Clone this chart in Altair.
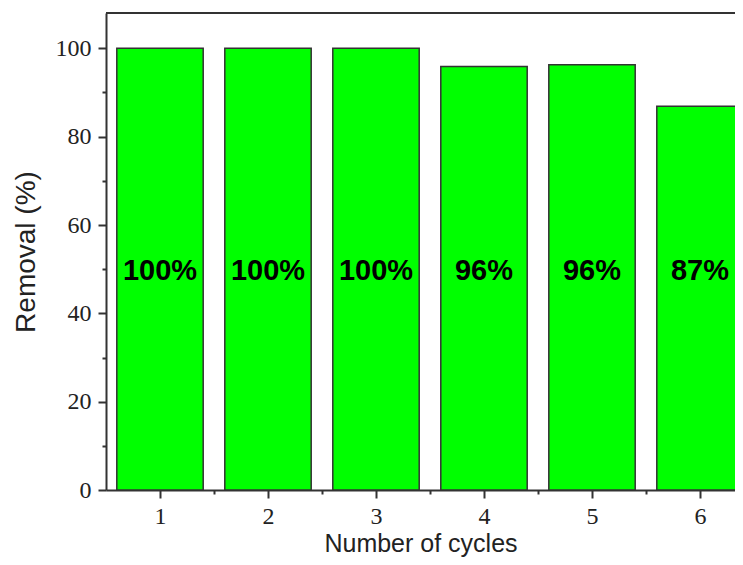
import altair as alt
import pandas as pd

cycles = [1, 2, 3, 4, 5, 6]
removal = [100, 100, 100, 95.9, 96.3, 86.9]
labels = ["100%", "100%", "100%", "96%", "96%", "87%"]
major_x = [1, 2, 3, 4, 5, 6]
minor_x = [1.5, 2.5, 3.5, 4.5, 5.5]
major_y = [0, 20, 40, 60, 80, 100]
minor_y = [10, 30, 50, 70, 90]

df = pd.DataFrame({"cycle": cycles, "removal": removal, "label": labels})

W, H = 629, 477
xscale = alt.Scale(domain=[0.5, 0.5 + W / 108], nice=False, zero=False)
yscale = alt.Scale(domain=[0, 108], nice=False)

ink = "#222222"
axis_common = dict(
    domainColor="#333333", domainWidth=2, tickColor="#333333", tickWidth=2,
    labelFont="Liberation Serif", labelFontSize=24, labelColor=ink,
    titleFont="Liberation Sans", titleFontWeight="normal",
    titleColor=ink, grid=False,
)

base = alt.Chart(df).transform_calculate(
    x0="datum.cycle - 0.4", x1="datum.cycle + 0.4"
)

bars = base.mark_bar(color="#00ff00", stroke="#333333", strokeWidth=1.5, clip=True).encode(
    x=alt.X("x0:Q", scale=xscale,
            axis=alt.Axis(values=major_x, title="Number of cycles", orient="bottom",
                          tickSize=8, labelPadding=6, titlePadding=3, titleFontSize=25,
                          **axis_common)),
    x2="x1:Q",
    y=alt.Y("removal:Q", scale=yscale,
            axis=alt.Axis(values=major_y, title="Removal (%)", orient="left",
                          tickSize=8, labelPadding=7, titlePadding=15, titleFontSize=28,
                          **axis_common)),
    y2=alt.Y2Datum(0),
)

minor_axis = dict(tickSize=4, labels=False, domain=False, title=None,
                  tickColor="#333333", tickWidth=2, grid=False)
minor = alt.Chart(df).mark_point(opacity=0).encode(
    x=alt.X("cycle:Q", scale=xscale, axis=alt.Axis(values=minor_x, orient="bottom", **minor_axis)),
    y=alt.Y("removal:Q", scale=yscale, axis=alt.Axis(values=minor_y, orient="left", **minor_axis)),
)

text = alt.Chart(df).mark_text(
    font="Liberation Sans", fontWeight="bold", fontSize=29, color="black", baseline="middle"
).encode(
    x=alt.X("cycle:Q", scale=xscale, axis=None),
    y=alt.YDatum(49.5, axis=None),
    text="label:N",
)

top = alt.Chart(df).mark_rule(color="#333333", strokeWidth=2).encode(
    y=alt.YDatum(108, axis=None),
    x=alt.value(0),
    x2=alt.value(W),
)

chart = alt.layer(bars, minor, text, top).resolve_axis(
    x="independent", y="independent"
).properties(
    width=W, height=H,
    autosize=alt.AutoSizeParams(type="none"),
    padding={"left": 98, "top": 5, "right": 0, "bottom": 67},
).configure_view(stroke=None)

chart.save("out.html", embed_options={"renderer": "svg", "actions": False})
